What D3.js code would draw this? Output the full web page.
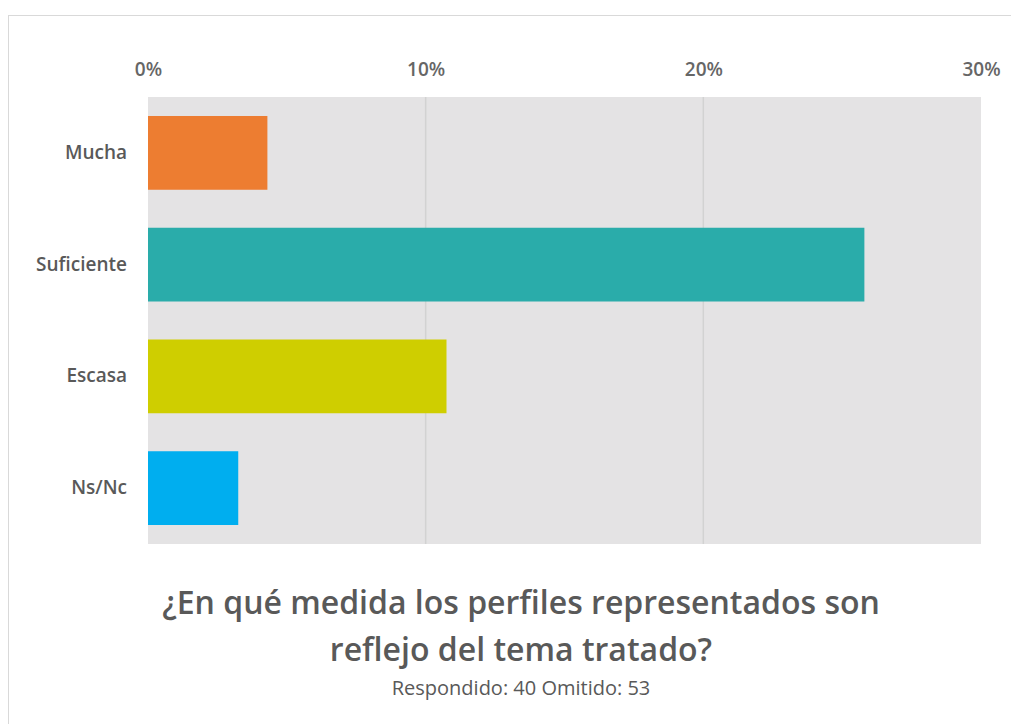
<!DOCTYPE html>
<html><head><meta charset="utf-8">
<script src="https://cdn.jsdelivr.net/npm/d3@7"></script>
<style>body{margin:0;background:#fff}svg{display:block}text{font-family:"Open Sans",sans-serif}</style>
</head><body>
<script>
const categories = ["Mucha","Suficiente","Escasa","Ns/Nc"];
const values = [4.3, 25.8, 10.75, 3.25];
const colors = ["#ED7D31","#2AACAA","#CFCE00","#00AEEF"];
const ticks = [0,10,20,30];
const title = ["¿En qué medida los perfiles representados son","reflejo del tema tratado?"];
const subtitle = "Respondido: 40 Omitido: 53";

const W=1011,H=724;
const svg=d3.select("body").append("svg").attr("width",W).attr("height",H);
svg.append("rect").attr("x",8.5).attr("y",15.5).attr("width",1010).attr("height",720).attr("fill","#fff").attr("stroke","#d9d9d9");
const x=d3.scaleLinear().domain([0,30]).range([148,981]);
const y=d3.scaleBand().domain(categories).range([97,544]).paddingInner(0.34).paddingOuter(0.17);
svg.append("rect").attr("x",x(0)).attr("y",97).attr("width",x(30)-x(0)).attr("height",447).attr("fill","#E4E3E4");
const g=svg.append("g");
g.selectAll("line.grid").data(ticks.slice(1,3)).join("line").attr("class","grid")
 .attr("x1",d=>x(d)).attr("x2",d=>x(d)).attr("y1",97).attr("y2",544).attr("stroke","#d2d2d2").attr("stroke-width",1.5);
g.selectAll("rect.bar").data(categories).join("rect").attr("class","bar")
 .attr("x",x(0)).attr("y",d=>y(d)).attr("height",y.bandwidth())
 .attr("width",(d,i)=>x(values[i])-x(0)).attr("fill",(d,i)=>colors[i]);
const ax=svg.append("g").attr("transform","translate(0,76)")
 .call(d3.axisTop(x).tickValues(ticks).tickFormat(d=>d+"%").tickSize(0).tickPadding(0));
ax.select(".domain").remove();
ax.selectAll("text").attr("font-family","Open Sans").attr("font-size",19).attr("font-weight",600).attr("fill","#666");
const ay=svg.append("g").attr("transform","translate(127,0)")
 .call(d3.axisLeft(y).tickSize(0).tickPadding(0));
ay.select(".domain").remove();
ay.selectAll("text").attr("font-family","Open Sans").attr("font-size",19).attr("font-weight",600).attr("fill","#595959");
svg.selectAll("text.title").data(title).join("text").attr("class","title")
 .attr("x",521).attr("y",(d,i)=>614+i*47).attr("text-anchor","middle")
 .attr("font-size",32).attr("font-weight",600).attr("fill","#595959").text(d=>d);
svg.append("text").attr("x",521).attr("y",695).attr("text-anchor","middle")
 .attr("font-size",20).attr("fill","#595959").text(subtitle);
</script>
</body></html>
